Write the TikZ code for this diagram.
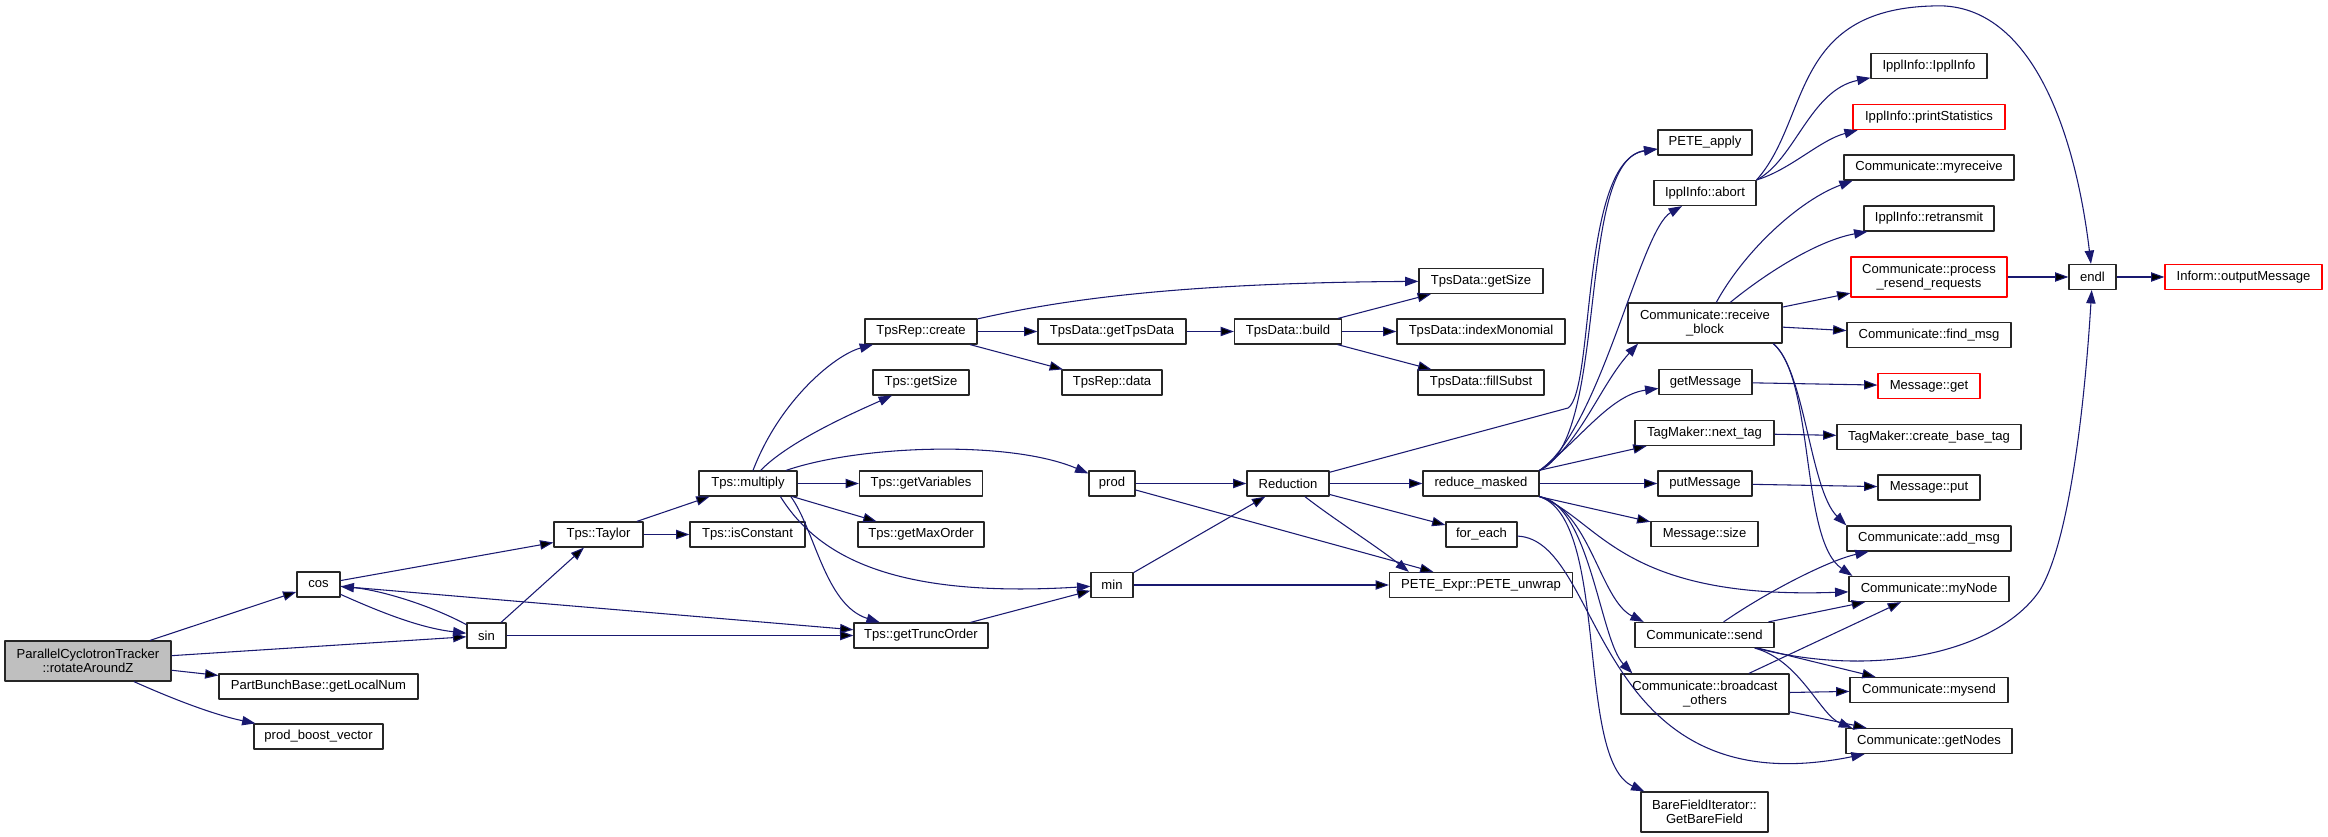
\documentclass[tikz,border=0pt]{standalone}
\usepackage{fontspec}
\setmainfont{Liberation Sans}
\usepackage{xcolor}
\usepackage{tikz}
\usetikzlibrary{arrows.meta}

\definecolor{edgeblue}{HTML}{191970}
\definecolor{rootgray}{HTML}{BFBFBF}

\begin{document}
\begin{tikzpicture}[->,>={Triangle[length=10pt,width=7pt]},x=0.75pt,y=0.75pt,
            line join=round]
        \tikzstyle{fn}=[draw=black!85,line width=0.9pt,text=black,inner xsep=4pt,inner ysep=0pt,
            minimum height=18.75pt,align=center,font=\fontsize{9.8pt}{10.75pt}\selectfont]
        \tikzstyle{undoc}=[draw=red]
        \tikzstyle{call}=[draw=edgeblue,line width=0.8pt]

        \useasboundingbox (0,0) rectangle (2328,-837);

        \node[fn,fill=rootgray,minimum height=30pt,minimum width=124.5pt] (pct) at (88,-661) {ParallelCyclotronTracker\\::rotateAroundZ};
        \node[fn,minimum width=32.25pt] (cos) at (318.5,-584.5) {cos};
        \node[fn,minimum width=29.25pt] (sin) at (486.5,-635.5) {sin};
        \node[fn,minimum width=149.25pt] (getlocalnum) at (318.5,-686.5) {PartBunchBase::getLocalNum};
        \node[fn,minimum width=96.75pt] (prodboost) at (318.5,-736.5) {prod\_boost\_vector};
        \node[fn,minimum width=66.75pt] (taylor) at (598.5,-534.5) {Tps::Taylor};
        \node[fn,minimum width=73.5pt] (multiply) at (748,-483.5) {Tps::multiply};
        \node[fn,minimum width=86.25pt] (isconstant) at (747.5,-534.5) {Tps::isConstant};
        \node[fn,minimum width=100.5pt] (gettrunc) at (921,-635.5) {Tps::getTruncOrder};
        \node[fn,minimum width=84pt] (create) at (921,-331.5) {TpsRep::create};
        \node[fn,minimum width=72pt] (tpsgetsize) at (921,-382.5) {Tps::getSize};
        \node[fn,minimum width=92.25pt] (getvariables) at (921,-483.5) {Tps::getVariables};
        \node[fn,minimum width=94.5pt] (getmaxorder) at (921,-534.5) {Tps::getMaxOrder};
        \node[fn,minimum width=34.5pt] (prod) at (1112,-483.5) {prod};
        \node[fn,minimum width=31.5pt] (min) at (1112,-585) {min};
        \node[fn,minimum width=111pt] (gettpsdata) at (1112,-331.5) {TpsData::getTpsData};
        \node[fn,minimum width=75pt] (tpsrepdata) at (1112,-382.5) {TpsRep::data};
        \node[fn,minimum width=61.5pt] (reduction) at (1288,-483.5) {Reduction};
        \node[fn,minimum width=80.25pt] (build) at (1288,-331.5) {TpsData::build};
        \node[fn,minimum width=87pt] (reducemasked) at (1481,-483.5) {reduce\_masked};
        \node[fn,minimum width=137.25pt] (peteunwrap) at (1481,-585) {PETE\_Expr::PETE\_unwrap};
        \node[fn,minimum width=53.25pt] (foreach) at (1481.5,-534.5) {for\_each};
        \node[fn,minimum width=93pt] (datagetsize) at (1481,-281) {TpsData::getSize};
        \node[fn,minimum width=126pt] (indexmonomial) at (1481,-331.5) {TpsData::indexMonomial};
        \node[fn,minimum width=94.5pt] (fillsubst) at (1481,-382.5) {TpsData::fillSubst};
        \node[fn,minimum width=70.5pt] (peteapply) at (1705,-142.5) {PETE\_apply};
        \node[fn,minimum width=76.5pt] (abort) at (1705,-193) {IpplInfo::abort};
        \node[fn,minimum height=30pt,minimum width=115.5pt] (receiveblock) at (1705,-323) {Communicate::receive\\\_block};
        \node[fn,minimum width=69.75pt] (getmessage) at (1705.5,-382) {getMessage};
        \node[fn,minimum width=104.25pt] (nexttag) at (1704.5,-433) {TagMaker::next\_tag};
        \node[fn,minimum width=70.5pt] (putmessage) at (1705,-483.5) {putMessage};
        \node[fn,minimum width=80.25pt] (msgsize) at (1704.5,-534) {Message::size};
        \node[fn,minimum width=104.25pt] (send) at (1704.5,-635) {Communicate::send};
        \node[fn,minimum height=30pt,minimum width=126pt] (broadcast) at (1705,-694) {Communicate::broadcast\\\_others};
        \node[fn,minimum height=30pt,minimum width=95.25pt] (barefield) at (1704.5,-812) {BareFieldIterator::\\GetBareField};
        \node[fn,minimum width=87pt] (ipplinfo) at (1929,-66) {IpplInfo::IpplInfo};
        \node[fn,undoc,minimum width=114pt] (printstat) at (1929,-117) {IpplInfo::printStatistics};
        \node[fn,minimum width=127.5pt] (myreceive) at (1929,-167.5) {Communicate::myreceive};
        \node[fn,minimum width=97.5pt] (retransmit) at (1929,-218.5) {IpplInfo::retransmit};
        \node[fn,undoc,minimum height=30pt,minimum width=117pt] (resend) at (1929,-277) {Communicate::process\\\_resend\_requests};
        \node[fn,minimum width=123pt] (findmsg) at (1929,-335) {Communicate::find\_msg};
        \node[fn,undoc,minimum width=76.5pt] (msgget) at (1929,-386) {Message::get};
        \node[fn,minimum width=138pt] (basetag) at (1929,-437) {TagMaker::create\_base\_tag};
        \node[fn,minimum width=76.5pt] (msgput) at (1929,-487.5) {Message::put};
        \node[fn,minimum width=123pt] (addmsg) at (1929,-538.5) {Communicate::add\_msg};
        \node[fn,minimum width=120pt] (mynode) at (1929,-589) {Communicate::myNode};
        \node[fn,minimum width=118.5pt] (mysend) at (1929,-690) {Communicate::mysend};
        \node[fn,minimum width=124.5pt] (getnodes) at (1929,-741) {Communicate::getNodes};
        \node[fn,minimum width=35.25pt] (endl) at (2092.5,-277) {endl};
        \node[fn,undoc,minimum width=117.75pt] (outputmsg) at (2243.5,-277) {Inform::outputMessage};

        % rotateAroundZ, cos, sin
        \path[call] (pct) edge (cos) edge (sin) edge (getlocalnum);
        \draw[call] (pct) .. controls (175,-700) and (215,-715) .. (prodboost);
        \draw[call] (cos) .. controls (380,-612) and (420,-628) .. (sin);
        \draw[call] (sin) .. controls (430,-605) and (380,-590) .. (cos);
        \path[call] (cos) edge (taylor) edge (gettrunc);
        \path[call] (sin) edge (taylor) edge (gettrunc);
        \path[call] (taylor) edge (multiply) edge (isconstant);

        % Tps::multiply
        \draw[call] (multiply) .. controls (780,-400) and (835,-355) .. (create);
        \draw[call] (multiply) .. controls (790,-440) and (860,-410) .. (tpsgetsize);
        \draw[call] (multiply) .. controls (860,-445) and (1010,-440) .. (prod);
        \path[call] (multiply) edge (getvariables) edge (getmaxorder);
        \draw[call] (multiply.-22) .. controls (820,-560) and (900,-598) .. (min);
        \draw[call] (multiply.-17) .. controls (815,-530) and (825,-605) .. (gettrunc);

        % TpsRep::create
        \draw[call] (create) .. controls (1040,-305) and (1150,-283) .. (datagetsize);
        \path[call] (create) edge (gettpsdata) edge (tpsrepdata);
        \path[call] (gettpsdata) edge (build);
        \path[call] (build) edge (datagetsize) edge (indexmonomial) edge (fillsubst);

        % prod, min, Reduction
        \path[call] (prod) edge (reduction) edge (peteunwrap);
        \path[call] (gettrunc) edge (min);
        \path[call] (min) edge (reduction) edge (peteunwrap);
        \path[call] (reduction) edge (reducemasked) edge (foreach);
        \draw[call] (reduction) .. controls (1335,-520) and (1375,-545) .. ([xshift=15pt]peteunwrap.north west);
        \draw[call] (reduction) -- (1568,-408) .. controls (1595,-390) and (1580,-160) .. (peteapply);

        % reduce_masked
        \draw[call] (reducemasked.north east) .. controls (1610,-440) and (1575,-160) .. (peteapply);
        \draw[call] (reducemasked.north east) .. controls (1600,-430) and (1640,-230) .. (abort);
        \draw[call] (reducemasked.north east) .. controls (1580,-445) and (1600,-385) .. ([xshift=8pt]receiveblock.south west);
        \draw[call] (reducemasked.north east) .. controls (1580,-440) and (1610,-395) .. (getmessage);
        \path[call] (reducemasked) edge (nexttag) edge (putmessage) edge (msgsize);
        \draw[call] (reducemasked.south east) .. controls (1600,-520) and (1620,-600) .. (mynode);
        \draw[call] (reducemasked.south east) .. controls (1590,-510) and (1600,-600) .. ([xshift=7pt]send.north west);
        \draw[call] (reducemasked.south east) .. controls (1590,-505) and (1600,-640) .. ([xshift=9pt]broadcast.north west);
        \draw[call] (reducemasked.south east) .. controls (1610,-520) and (1575,-760) .. ([xshift=3pt]barefield.north west);
        \draw[call] (foreach) .. controls (1605,-540) and (1590,-810) .. (getnodes);

        % Communicate::receive_block
        \draw[call] (receiveblock) .. controls (1745,-250) and (1800,-200) .. ([xshift=7pt]myreceive.south west);
        \draw[call] (receiveblock) .. controls (1770,-270) and (1820,-240) .. ([xshift=3pt]retransmit.south west);
        \path[call] (receiveblock) edge (resend) edge (findmsg);
        \draw[call] ([xshift=-7pt]receiveblock.south east) .. controls (1805,-370) and (1810,-490) .. (addmsg.north west);
        \draw[call] ([xshift=-7pt]receiveblock.south east) .. controls (1815,-380) and (1800,-540) .. ([xshift=3pt]mynode.north west);

        % IpplInfo::abort
        \draw[call] (abort.north east) .. controls (1795,-160) and (1810,-90) .. (ipplinfo);
        \draw[call] (abort.north east) .. controls (1790,-170) and (1820,-140) .. ([xshift=4pt]printstat.south west);
        \draw[call] (abort.north east) .. controls (1810,-120) and (1790,-10) .. (1932,-6)
            .. controls (2030,0) and (2075,-130) .. (endl);

        % right column
        \path[call] (resend) edge (endl);
        \path[call] (endl) edge (outputmsg);
        \path[call] (getmessage) edge (msgget);
        \path[call] (nexttag) edge (basetag);
        \path[call] (putmessage) edge (msgput);
        \draw[call] (send) .. controls (1770,-590) and (1830,-560) .. (addmsg);
        \path[call] (send) edge (mynode) edge (mysend);
        \draw[call] (send) .. controls (1800,-660) and (1820,-715) .. ([xshift=5pt]getnodes.north west);
        \draw[call] ([xshift=-14pt]send.south east) .. controls (1880,-680) and (2000,-650) .. (2040,-590)
            .. controls (2070,-540) and (2085,-400) .. (endl);
        \path[call] (broadcast) edge (mynode) edge (mysend) edge (getnodes);
    \end{tikzpicture}
\end{document}
